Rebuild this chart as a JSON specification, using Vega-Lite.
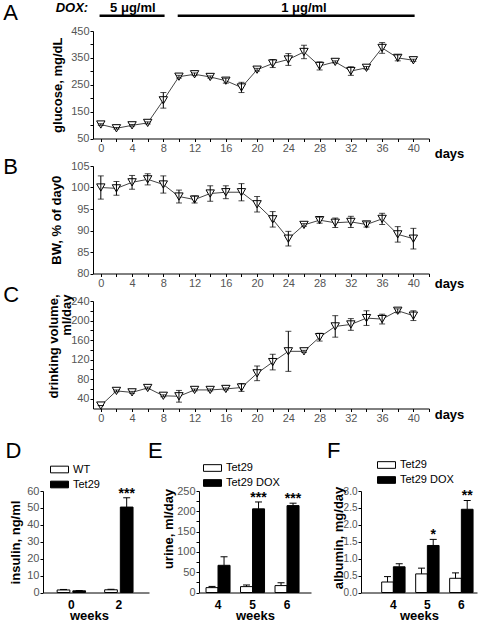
{
  "$schema": "https://vega.github.io/schema/vega-lite/v6.json",
  "background": "white",
  "autosize": {"type": "none"},
  "padding": {"left": 43, "top": 0, "right": 438, "bottom": 621},
  "config": {
    "font": "Liberation Sans",
    "view": {"stroke": null},
    "axis": {"grid": false, "domainColor": "black", "domainWidth": 1, "tickColor": "black", "tickWidth": 1, "tickSize": 3, "labelColor": "#555", "labelFont": "Liberation Sans", "labelFontSize": 11, "labelPadding": 1, "labelOverlap": false, "titleFont": "Liberation Sans", "titleFontSize": 13, "titleFontWeight": "bold", "titleColor": "black"},
    "legend": {"labelFont": "Liberation Sans", "labelFontSize": 11, "labelColor": "black", "labelOffset": 4, "padding": 0, "rowPadding": -4, "symbolType": "M-1,-0.37H1V0.37H-1Z", "symbolSize": 324, "symbolStrokeColor": "black", "symbolStrokeWidth": 1}
  },
  "datasets": {
    "glucose": [
      {"day": 0, "v": 102, "e": 3}, {"day": 2, "v": 88, "e": 3}, {"day": 4, "v": 99, "e": 3}, {"day": 6, "v": 108, "e": 4},
      {"day": 8, "v": 192, "e": 29}, {"day": 10, "v": 280, "e": 5}, {"day": 12, "v": 289, "e": 5}, {"day": 14, "v": 279, "e": 4},
      {"day": 16, "v": 265, "e": 9}, {"day": 18, "v": 240, "e": 19}, {"day": 20, "v": 306, "e": 5}, {"day": 22, "v": 329, "e": 15},
      {"day": 24, "v": 344, "e": 22}, {"day": 26, "v": 372, "e": 25}, {"day": 28, "v": 320, "e": 15}, {"day": 30, "v": 335, "e": 4},
      {"day": 32, "v": 301, "e": 16}, {"day": 34, "v": 313, "e": 5}, {"day": 36, "v": 387, "e": 20}, {"day": 38, "v": 350, "e": 11},
      {"day": 40, "v": 341, "e": 4}
    ],
    "doxbars": [{"day": 0, "day2": 8}, {"day": 10, "day2": 40}],
    "doxlabels": [{"day": 4.1, "label": "5 μg/ml"}, {"day": 26, "label": "1 μg/ml"}],
    "doxtitle": [{"day": -3.7, "label": "DOX:"}],
    "letterA": [{"day": -1, "v": 450, "label": "A"}],
    "letterB": [{"day": -1, "v": 105, "label": "B"}],
    "letterC": [{"day": -1, "v": 240, "label": "C"}],
    "letterD": [{"week": "0", "group": "WT", "v": 60, "label": "D"}],
    "letterE": [{"week": "4", "group": "Tet29", "v": 250, "label": "E"}],
    "letterF": [{"week": "4", "group": "Tet29", "v": 3, "label": "F"}],
    "bw": [
      {"day": 0, "v": 100, "e": 2.7}, {"day": 2, "v": 99.8, "e": 1.6}, {"day": 4, "v": 101.2, "e": 1.6}, {"day": 6, "v": 101.9, "e": 1.3},
      {"day": 8, "v": 100.7, "e": 2.0}, {"day": 10, "v": 97.9, "e": 1.5}, {"day": 12, "v": 97.2, "e": 0.8}, {"day": 14, "v": 98.6, "e": 1.8},
      {"day": 16, "v": 98.9, "e": 1.5}, {"day": 18, "v": 98.9, "e": 2.0}, {"day": 20, "v": 96.1, "e": 1.8}, {"day": 22, "v": 92.6, "e": 1.8},
      {"day": 24, "v": 88.1, "e": 1.7}, {"day": 26, "v": 91.3, "e": 0.3}, {"day": 28, "v": 92.4, "e": 0.7}, {"day": 30, "v": 91.8, "e": 1.1},
      {"day": 32, "v": 92.0, "e": 1.3}, {"day": 34, "v": 91.4, "e": 0.6}, {"day": 36, "v": 92.7, "e": 1.3}, {"day": 38, "v": 89.1, "e": 1.8},
      {"day": 40, "v": 88.1, "e": 2.4}
    ],
    "drink": [
      {"day": 0, "v": 26, "e": 0}, {"day": 2, "v": 56, "e": 2}, {"day": 4, "v": 53, "e": 2}, {"day": 6, "v": 62, "e": 2},
      {"day": 8, "v": 46, "e": 2}, {"day": 10, "v": 45, "e": 12}, {"day": 12, "v": 58, "e": 2}, {"day": 14, "v": 58, "e": 2},
      {"day": 16, "v": 60, "e": 2}, {"day": 18, "v": 63, "e": 8}, {"day": 20, "v": 92, "e": 15}, {"day": 22, "v": 115, "e": 16},
      {"day": 24, "v": 137, "e": 41}, {"day": 26, "v": 137, "e": 2}, {"day": 28, "v": 166, "e": 8}, {"day": 30, "v": 188, "e": 22},
      {"day": 32, "v": 192, "e": 12}, {"day": 34, "v": 205, "e": 15}, {"day": 36, "v": 203, "e": 10}, {"day": 38, "v": 220, "e": 4},
      {"day": 40, "v": 210, "e": 10}
    ],
    "insulin": [
      {"week": "0", "group": "WT", "v": 1.5, "hi": 1.8, "sig": ""},
      {"week": "0", "group": "Tet29", "v": 1.0, "hi": 1.2, "sig": ""},
      {"week": "2", "group": "WT", "v": 1.6, "hi": 1.9, "sig": ""},
      {"week": "2", "group": "Tet29", "v": 50.5, "hi": 56, "sig": "***"}
    ],
    "urine": [
      {"week": "4", "group": "Tet29", "v": 12, "hi": 15, "sig": ""},
      {"week": "4", "group": "Tet29 DOX", "v": 67, "hi": 88, "sig": ""},
      {"week": "5", "group": "Tet29", "v": 14.5, "hi": 18.5, "sig": ""},
      {"week": "5", "group": "Tet29 DOX", "v": 206, "hi": 223, "sig": "***"},
      {"week": "6", "group": "Tet29", "v": 17, "hi": 24, "sig": ""},
      {"week": "6", "group": "Tet29 DOX", "v": 214, "hi": 220, "sig": "***"}
    ],
    "albumin": [
      {"week": "4", "group": "Tet29", "v": 0.31, "hi": 0.47, "sig": ""},
      {"week": "4", "group": "Tet29 DOX", "v": 0.76, "hi": 0.85, "sig": ""},
      {"week": "5", "group": "Tet29", "v": 0.55, "hi": 0.72, "sig": ""},
      {"week": "5", "group": "Tet29 DOX", "v": 1.39, "hi": 1.57, "sig": "*"},
      {"week": "6", "group": "Tet29", "v": 0.42, "hi": 0.58, "sig": ""},
      {"week": "6", "group": "Tet29 DOX", "v": 2.46, "hi": 2.72, "sig": "**"}
    ]
  },
  "columns": 3,
  "align": "each",
  "bounds": "flush",
  "spacing": {"row": 0, "column": 50},
  "resolve": {"scale": {"color": "independent", "xOffset": "independent"}, "legend": {"color": "independent"}},
  "concat": [
    {
      "width": 106, "height": 31,
      "encoding": {
        "x": {"field": "day", "type": "quantitative", "scale": {"domain": [-7, 42], "range": [3.12, 386], "nice": false, "zero": false}, "axis": null},
        "y": {"datum": 507, "type": "quantitative", "scale": {"domain": [450, 565.3], "nice": false, "zero": false}, "axis": null}
      },
      "layer": [
        {"data": {"name": "doxbars"}, "mark": {"type": "rule", "strokeWidth": 2.5, "strokeCap": "square", "color": "black"},
         "encoding": {"x2": {"field": "day2"}}},
        {"data": {"name": "doxlabels"}, "mark": {"type": "text", "fontSize": 13, "fontWeight": "bold", "baseline": "alphabetic", "color": "black"},
         "encoding": {"text": {"field": "label"}, "y": {"datum": 522, "type": "quantitative"}}},
        {"data": {"name": "doxtitle"}, "mark": {"type": "text", "fontSize": 13, "fontWeight": "bold", "fontStyle": "italic", "baseline": "alphabetic", "color": "black"},
         "encoding": {"text": {"field": "label"}, "y": {"datum": 522, "type": "quantitative"}}}
      ]
    },
    {"width": 0, "height": 0, "data": {"values": []}, "mark": "point"},
    {"width": 0, "height": 0, "data": {"values": []}, "mark": "point"},
    {
      "width": 106, "height": 107.5,
      "data": {"name": "glucose"},
      "encoding": {
        "x": {"field": "day", "type": "quantitative", "title": "days", "scale": {"domain": [-1, 42], "range": [50, 386], "nice": false, "zero": false},
              "axis": {"values": [0,2,4,6,8,10,12,14,16,18,20,22,24,26,28,30,32,34,36,38,40,42], "labelExpr": "datum.value % 4 === 0 && datum.value <= 40 ? datum.label : ''", "titleX": 406, "titleY": 14.5, "titleBaseline": "middle", "titleAlign": "center"}},
        "y": {"field": "v", "type": "quantitative", "title": "glucose, mg/dL", "scale": {"domain": [50, 450], "nice": false, "zero": false},
              "axis": {"offset": -50, "values": [50,100,150,200,250,300,350,400,450], "labelExpr": "(datum.value - 50) % 100 === 0 ? datum.label : ''", "titleX": -36, "titleBaseline": "middle"}}
      },
      "layer": [
        {"mark": {"type": "line", "color": "#444", "strokeWidth": 1}},
        {"mark": {"type": "point", "shape": "triangle-down", "size": 70, "filled": true, "fill": "white", "stroke": "black", "strokeWidth": 1, "opacity": 1}},
        {"mark": {"type": "errorbar", "ticks": true, "size": 6, "thickness": 1, "color": "black"}, "encoding": {"yError": {"field": "e"}}},
        {"data": {"name": "letterA"}, "mark": {"type": "text", "fontSize": 22, "align": "left", "baseline": "alphabetic", "color": "black", "dx": -89.7, "dy": -11},
         "encoding": {"text": {"field": "label"}}}
      ]
    },
    {"width": 0, "height": 0, "data": {"values": []}, "mark": "point"},
    {"width": 0, "height": 0, "data": {"values": []}, "mark": "point"},
    {"width": 0, "height": 26.5, "data": {"values": []}, "mark": "point"},
    {"width": 0, "height": 0, "data": {"values": []}, "mark": "point"},
    {"width": 0, "height": 0, "data": {"values": []}, "mark": "point"},
    {
      "width": 106, "height": 107.5,
      "data": {"name": "bw"},
      "encoding": {
        "x": {"field": "day", "type": "quantitative", "title": "days", "scale": {"domain": [-1, 42], "range": [50, 386], "nice": false, "zero": false},
              "axis": {"values": [0,2,4,6,8,10,12,14,16,18,20,22,24,26,28,30,32,34,36,38,40,42], "labelExpr": "datum.value % 4 === 0 && datum.value <= 40 ? datum.label : ''", "titleX": 406, "titleY": 9.5, "titleBaseline": "middle", "titleAlign": "center"}},
        "y": {"field": "v", "type": "quantitative", "title": "BW, % of day0", "scale": {"domain": [80, 105], "nice": false, "zero": false},
              "axis": {"offset": -50, "values": [80,85,90,95,100,105], "titleX": -37, "titleBaseline": "middle"}}
      },
      "layer": [
        {"data": {"values": [{}]}, "mark": {"type": "rule", "strokeDash": [3, 2], "color": "#333", "strokeWidth": 1},
         "encoding": {"x": {"datum": -1, "type": "quantitative", "title": "days"}, "x2": {"datum": 42}, "y": {"datum": 99.1, "type": "quantitative", "title": "BW, % of day0"}}},
        {"mark": {"type": "line", "color": "#444", "strokeWidth": 1}},
        {"mark": {"type": "point", "shape": "triangle-down", "size": 70, "filled": true, "fill": "white", "stroke": "black", "strokeWidth": 1, "opacity": 1}},
        {"mark": {"type": "errorbar", "ticks": true, "size": 6, "thickness": 1, "color": "black"}, "encoding": {"yError": {"field": "e"}}},
        {"data": {"name": "letterB"}, "mark": {"type": "text", "fontSize": 22, "align": "left", "baseline": "alphabetic", "color": "black", "dx": -89.7, "dy": 8},
         "encoding": {"text": {"field": "label"}}}
      ]
    },
    {"width": 0, "height": 0, "data": {"values": []}, "mark": "point"},
    {"width": 0, "height": 0, "data": {"values": []}, "mark": "point"},
    {"width": 0, "height": 26.5, "data": {"values": []}, "mark": "point"},
    {"width": 0, "height": 0, "data": {"values": []}, "mark": "point"},
    {"width": 0, "height": 0, "data": {"values": []}, "mark": "point"},
    {
      "width": 106, "height": 107.5,
      "data": {"name": "drink"},
      "encoding": {
        "x": {"field": "day", "type": "quantitative", "title": "days", "scale": {"domain": [-1, 42], "range": [50, 386], "nice": false, "zero": false},
              "axis": {"values": [0,2,4,6,8,10,12,14,16,18,20,22,24,26,28,30,32,34,36,38,40,42], "labelExpr": "datum.value % 4 === 0 && datum.value <= 40 ? datum.label : ''", "titleX": 406, "titleY": 6, "titleBaseline": "middle", "titleAlign": "center"}},
        "y": {"field": "v", "type": "quantitative", "title": ["drinking  volume,", "ml/day"], "scale": {"domain": [20, 240], "nice": false, "zero": false},
              "axis": {"offset": -50, "values": [40,60,80,100,120,140,160,180,200,220,240], "labelExpr": "datum.value % 40 === 0 ? datum.label : ''", "titleX": -39.5, "titleY": -7, "titleAlign": "right", "titleBaseline": "middle", "titleLineHeight": 13}}
      },
      "layer": [
        {"mark": {"type": "line", "color": "#444", "strokeWidth": 1}},
        {"mark": {"type": "point", "shape": "triangle-down", "size": 70, "filled": true, "fill": "white", "stroke": "black", "strokeWidth": 1, "opacity": 1}},
        {"mark": {"type": "errorbar", "ticks": true, "size": 6, "thickness": 1, "color": "black"}, "encoding": {"yError": {"field": "e"}}},
        {"data": {"name": "letterC"}, "mark": {"type": "text", "fontSize": 22, "align": "left", "baseline": "alphabetic", "color": "black", "dx": -89.7, "dy": 1},
         "encoding": {"text": {"field": "label"}}}
      ]
    },
    {"width": 0, "height": 0, "data": {"values": []}, "mark": "point"},
    {"width": 0, "height": 0, "data": {"values": []}, "mark": "point"},
    {"width": 0, "height": 82, "data": {"values": []}, "mark": "point"},
    {"width": 0, "height": 0, "data": {"values": []}, "mark": "point"},
    {"width": 0, "height": 0, "data": {"values": []}, "mark": "point"},
    {
      "width": 106, "height": 101.5,
      "data": {"name": "insulin"},
      "encoding": {
        "x": {"field": "week", "type": "nominal", "title": "weeks", "scale": {"paddingInner": 0.402, "paddingOuter": 0.317, "align": 0.47},
              "axis": {"labelAngle": 0, "ticks": false, "tickSize": 0, "labelFontWeight": "bold", "labelColor": "black", "labelFontSize": 12, "labelPadding": 16, "labelBaseline": "alphabetic", "titleY": 27, "titleX": 46, "titleBaseline": "alphabetic"}},
        "xOffset": {"field": "group", "type": "nominal", "scale": {"domain": ["WT", "Tet29"], "paddingInner": 0.19, "paddingOuter": 0}},
        "y": {"field": "v", "type": "quantitative", "title": "insulin, ng/ml", "stack": null, "scale": {"domain": [0, 60], "nice": false},
              "axis": {"values": [0,10,20,30,40,50,60], "titleX": -27.3, "titleY": 51, "titleBaseline": "middle"}}
      },
      "layer": [
        {"mark": {"type": "bar", "stroke": "black", "strokeWidth": 1, "opacity": 1},
         "encoding": {"color": {"field": "group", "type": "nominal", "scale": {"domain": ["WT", "Tet29"], "range": ["white", "black"]},
                               "legend": {"title": null, "orient": "none", "legendX": 7, "legendY": -31}}}},
        {"mark": {"type": "rule", "color": "black", "strokeWidth": 1}, "encoding": {"y2": {"field": "hi"}}},
        {"mark": {"type": "tick", "orient": "horizontal", "size": 7, "thickness": 1, "color": "black", "opacity": 1},
         "encoding": {"y": {"field": "hi", "type": "quantitative", "title": "insulin, ng/ml"}}},
        {"mark": {"type": "text", "fontSize": 14, "fontWeight": "bold", "baseline": "alphabetic", "color": "black"},
         "encoding": {"y": {"field": "hi", "type": "quantitative", "title": "insulin, ng/ml"}, "text": {"field": "sig"}}},
        {"data": {"name": "letterD"}, "mark": {"type": "text", "fontSize": 22, "align": "left", "baseline": "alphabetic", "color": "black", "dx": -58, "dy": -33.5},
         "encoding": {"text": {"field": "label"}}}
      ]
    },
    {
      "width": 112, "height": 101.5,
      "data": {"name": "urine"},
      "encoding": {
        "x": {"field": "week", "type": "nominal", "title": "weeks", "scale": {"paddingInner": 0.304, "paddingOuter": 0.275, "align": 0.37},
              "axis": {"labelAngle": 0, "ticks": false, "tickSize": 0, "labelFontWeight": "bold", "labelColor": "black", "labelFontSize": 12, "labelPadding": 16, "labelBaseline": "alphabetic", "titleY": 27, "titleBaseline": "alphabetic"}},
        "xOffset": {"field": "group", "type": "nominal", "scale": {"domain": ["Tet29", "Tet29 DOX"], "paddingInner": 0, "paddingOuter": 0}},
        "y": {"field": "v", "type": "quantitative", "title": "urine, ml/day", "stack": null, "scale": {"domain": [0, 250], "nice": false},
              "axis": {"values": [0,25,50,75,100,125,150,175,200,225,250], "labelExpr": "datum.value % 50 === 0 ? datum.label : ''", "titleX": -31, "titleY": 37.5, "titleBaseline": "middle"}}
      },
      "layer": [
        {"mark": {"type": "bar", "stroke": "black", "strokeWidth": 1, "opacity": 1},
         "encoding": {"color": {"field": "group", "type": "nominal", "scale": {"domain": ["Tet29", "Tet29 DOX"], "range": ["white", "black"]},
                               "legend": {"title": null, "orient": "none", "legendX": 4, "legendY": -32.5}}}},
        {"mark": {"type": "rule", "color": "black", "strokeWidth": 1}, "encoding": {"y2": {"field": "hi"}}},
        {"mark": {"type": "tick", "orient": "horizontal", "size": 7, "thickness": 1, "color": "black", "opacity": 1},
         "encoding": {"y": {"field": "hi", "type": "quantitative", "title": "urine, ml/day"}}},
        {"mark": {"type": "text", "fontSize": 14, "fontWeight": "bold", "baseline": "alphabetic", "color": "black"},
         "encoding": {"y": {"field": "hi", "type": "quantitative", "title": "urine, ml/day"}, "text": {"field": "sig"}}},
        {"data": {"name": "letterE"}, "mark": {"type": "text", "fontSize": 22, "align": "left", "baseline": "alphabetic", "color": "black", "dx": -64, "dy": -33.5},
         "encoding": {"text": {"field": "label"}}}
      ]
    },
    {
      "width": 116, "height": 101.5,
      "data": {"name": "albumin"},
      "encoding": {
        "x": {"field": "week", "type": "nominal", "title": "weeks", "scale": {"paddingInner": 0.312, "paddingOuter": 0.362, "align": 0.84},
              "axis": {"labelAngle": 0, "ticks": false, "tickSize": 0, "labelFontWeight": "bold", "labelColor": "black", "labelFontSize": 12, "labelPadding": 16, "labelBaseline": "alphabetic", "titleY": 27, "titleBaseline": "alphabetic"}},
        "xOffset": {"field": "group", "type": "nominal", "scale": {"domain": ["Tet29", "Tet29 DOX"], "paddingInner": 0, "paddingOuter": 0}},
        "y": {"field": "v", "type": "quantitative", "title": "albumin, mg/day", "stack": null, "scale": {"domain": [0, 3], "nice": false},
              "axis": {"values": [0,0.5,1,1.5,2,2.5,3], "format": ".1f", "labelFontSize": 10, "titleX": -23, "titleY": 46.5, "titleBaseline": "middle"}}
      },
      "layer": [
        {"mark": {"type": "bar", "stroke": "black", "strokeWidth": 1, "opacity": 1},
         "encoding": {"color": {"field": "group", "type": "nominal", "scale": {"domain": ["Tet29", "Tet29 DOX"], "range": ["white", "black"]},
                               "legend": {"title": null, "orient": "none", "legendX": 16, "legendY": -35.5}}}},
        {"mark": {"type": "rule", "color": "black", "strokeWidth": 1}, "encoding": {"y2": {"field": "hi"}}},
        {"mark": {"type": "tick", "orient": "horizontal", "size": 7, "thickness": 1, "color": "black", "opacity": 1},
         "encoding": {"y": {"field": "hi", "type": "quantitative", "title": "albumin, mg/day"}}},
        {"mark": {"type": "text", "fontSize": 14, "fontWeight": "bold", "baseline": "alphabetic", "color": "black"},
         "encoding": {"y": {"field": "hi", "type": "quantitative", "title": "albumin, mg/day"}, "text": {"field": "sig"}}},
        {"data": {"name": "letterF"}, "mark": {"type": "text", "fontSize": 22, "align": "left", "baseline": "alphabetic", "color": "black", "dx": -60.5, "dy": -33.5},
         "encoding": {"text": {"field": "label"}}}
      ]
    }
  ]
}
